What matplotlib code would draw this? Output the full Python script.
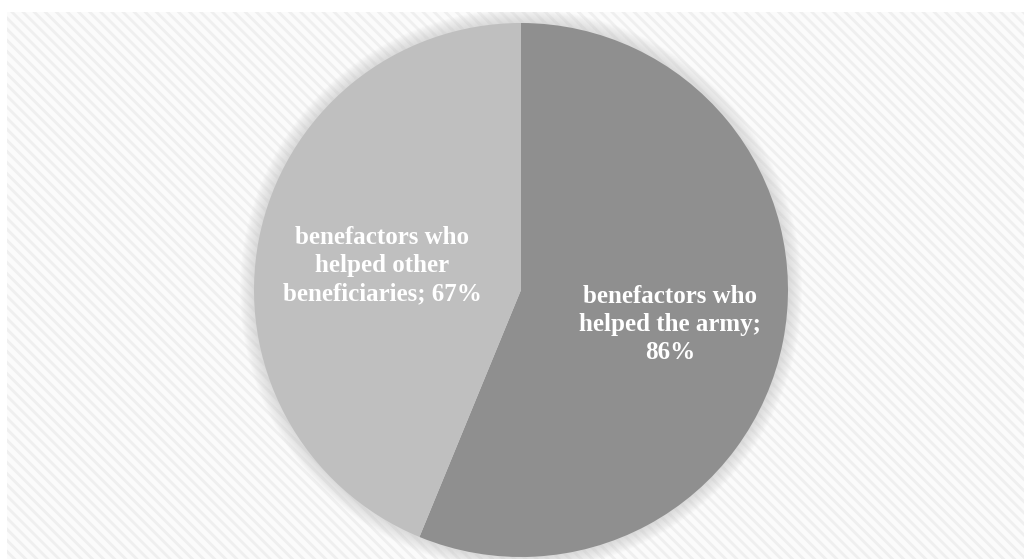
import matplotlib
matplotlib.use("Agg")
import matplotlib.pyplot as plt
import numpy as np
from matplotlib.patches import Circle, Rectangle

categories = ["benefactors who\nhelped the army;\n86%",
              "benefactors who\nhelped other\nbeneficiaries; 67%"]
values = [86, 67]
colors = ["#8f8f8f", "#bfbfbf"]
label_dist = [0.57, 0.53]
label_shift = [-5, -3]  # small vertical nudge, pixels

plt.rcParams["hatch.linewidth"] = 2.0

fig = plt.figure(figsize=(10.24, 5.59), dpi=100)
fig.patch.set_facecolor("white")

# plot area: pixel box x 7..1024, y 0..547 from bottom
ax = fig.add_axes([7 / 1024, 0, 1017 / 1024, 547 / 559])

bg = Rectangle((0, 0), 1017, 547, facecolor="#fbfbfb", edgecolor="#efefef",
               linewidth=0, hatch="\\\\\\", zorder=0)
ax.add_patch(bg)

cx, cy, r = 514, 269, 267

# soft shadow around the pie
for i in range(14, 0, -1):
    ax.add_patch(Circle((cx, cy), r + i, facecolor="#c8c8c8", edgecolor="none",
                        alpha=0.05, zorder=1))

wedges, texts = ax.pie(values, labels=categories, colors=colors, startangle=90,
                       counterclock=False, center=(cx, cy), radius=r,
                       frame=True,
                       wedgeprops=dict(linewidth=0, zorder=2),
                       textprops=dict(color="white", fontsize=18, fontweight="bold",
                                      family="Liberation Serif"))
for w, t, d, s in zip(wedges, texts, label_dist, label_shift):
    ang = np.deg2rad((w.theta1 + w.theta2) / 2)
    t.set_position((cx + d * r * np.cos(ang), cy + d * r * np.sin(ang) + s))
    t.set_ha("center")
    t.set_va("center")
    t.set_multialignment("center")
    t.set_linespacing(1.28)
    t.set_zorder(3)

ax.set_xlim(0, 1017)
ax.set_ylim(0, 547)
ax.set_aspect("auto")
ax.axis("off")

fig.savefig("out.png", dpi=100)
